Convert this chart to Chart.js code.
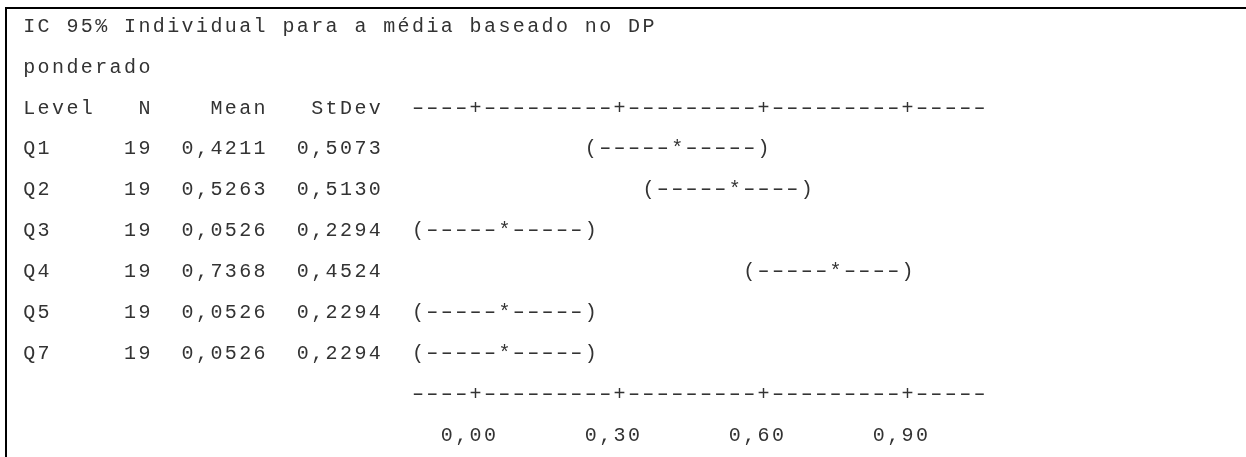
<!DOCTYPE html>
<html>
<head>
   <title>IC 95% Individual para a média</title>
   <meta charset="UTF-8">
   <script src="https://cdn.jsdelivr.net/npm/chart.js"></script>
   <style>
       body {
           margin: 0;
           background: white;
       }
       .quadro {
           position: relative;
           width: 1246px;
           height: 457px;
       }
   </style>
</head>
<body>
   <div class="quadro">
       <canvas id="grafico"></canvas>
   </div>

   <script>
       const titulo = ['IC 95% Individual para a média baseado no DP', 'ponderado'];
       const cabecalho = ['Level', 'N', 'Mean', 'StDev'];
       const niveis = ['Q1', 'Q2', 'Q3', 'Q4', 'Q5', 'Q7'];
       const tamanhos = [19, 19, 19, 19, 19, 19];
       const medias = [0.4211, 0.5263, 0.0526, 0.7368, 0.0526, 0.0526];
       const desvios = [0.5073, 0.5130, 0.2294, 0.4524, 0.2294, 0.2294];
       const icInferior = [0.247, 0.352, -0.122, 0.562, -0.122, -0.122];
       const icSuperior = [0.596, 0.701, 0.227, 0.911, 0.227, 0.227];
       const marcas = [0, 0.3, 0.6, 0.9];

       // Grade de caracteres (fonte monoespaçada)
       const X0 = 22;          // início do texto
       const PASSO = 14.4;     // largura de um caractere
       const Y0 = 24.7;        // centro da primeira linha
       const LINHA = 40.9;     // altura de linha
       const COL_INI = 27;     // coluna onde começa o eixo
       const COL_FIM = 67;     // coluna depois do fim do eixo
       const POR_COL = 0.03;   // valor por caractere
       const COL_ZERO = 31;    // coluna do valor 0
       const FONTE = '20px "Liberation Mono", "DejaVu Sans Mono", monospace';
       const COR = '#333333';

       const virgula = (v, d) => v.toFixed(d).replace('.', ',');

       // linha de cada elemento
       const LIN_TABELA = 2;
       const LIN_EIXO = LIN_TABELA + niveis.length + 1;
       const LIN_ROTULOS = LIN_EIXO + 1;

       function escrever(ctx, texto, col, y) {
           for (let i = 0; i < texto.length; i++) {
               const ch = texto[i];
               if (ch === ' ') continue;
               const x = X0 + (col + i + 0.5) * PASSO;
               if (ch === '-') {
                   // traço do Courier é mais comprido
                   ctx.save();
                   ctx.translate(x, y);
                   ctx.scale(1.55, 1);
                   ctx.fillText(ch, 0, 0);
                   ctx.restore();
               } else {
                   ctx.fillText(ch, x, y);
               }
           }
       }

       function colunaDe(chart, valor) {
           const px = chart.scales.x.getPixelForValue(valor);
           return Math.round((px - X0) / PASSO - 0.5);
       }

       function linhaEixo(chart) {
           const chars = [];
           for (let c = COL_INI; c < COL_FIM; c++) chars.push('-');
           marcas.forEach(m => { chars[colunaDe(chart, m) - COL_INI] = '+'; });
           return chars.join('');
       }

       const textoMinitab = {
           id: 'textoMinitab',
           beforeDraw(chart) {
               const ctx = chart.ctx;
               ctx.save();
               ctx.fillStyle = 'white';
               ctx.fillRect(0, 0, chart.width, chart.height);
               // moldura
               ctx.fillStyle = '#000';
               ctx.fillRect(5, 7, chart.width - 5, 2);
               ctx.fillRect(5, 7, 2, chart.height - 7);
               ctx.restore();
           },
           afterDatasetsDraw(chart) {
               const ctx = chart.ctx;
               const y = chart.scales.y;
               const base = r => y.getPixelForValue(r) + 7;
               ctx.save();
               ctx.font = FONTE;
               ctx.fillStyle = COR;
               ctx.textAlign = 'center';
               ctx.textBaseline = 'alphabetic';

               escrever(ctx, titulo[0], 0, base(0));
               escrever(ctx, titulo[1], 0, base(1));

               // cabeçalho
               const yc = base(LIN_TABELA);
               escrever(ctx, cabecalho[0], 0, yc);
               escrever(ctx, cabecalho[1], 9 - cabecalho[1].length, yc);
               escrever(ctx, cabecalho[2], 17 - cabecalho[2].length, yc);
               escrever(ctx, cabecalho[3], 25 - cabecalho[3].length, yc);
               escrever(ctx, linhaEixo(chart), COL_INI, yc);

               // níveis e intervalos
               niveis.forEach((nv, i) => {
                   const yl = base(LIN_TABELA + 1 + i);
                   const ns = String(tamanhos[i]);
                   const ms = virgula(medias[i], 4);
                   const ds = virgula(desvios[i], 4);
                   escrever(ctx, nv, 0, yl);
                   escrever(ctx, ns, 9 - ns.length, yl);
                   escrever(ctx, ms, 17 - ms.length, yl);
                   escrever(ctx, ds, 25 - ds.length, yl);

                   const cIni = colunaDe(chart, icInferior[i]);
                   const cFim = colunaDe(chart, icSuperior[i]);
                   const cMed = colunaDe(chart, medias[i]);
                   let s = '';
                   for (let c = cIni; c <= cFim; c++) {
                       s += c === cIni ? '(' : c === cFim ? ')' : c === cMed ? '*' : '-';
                   }
                   escrever(ctx, s, cIni, yl);
               });

               // eixo inferior e rótulos
               escrever(ctx, linhaEixo(chart), COL_INI, base(LIN_EIXO));
               marcas.forEach(m => {
                   escrever(ctx, virgula(m, 2), colunaDe(chart, m) - 2, base(LIN_ROTULOS));
               });
               ctx.restore();
           }
       };

       // escala x: bordas das colunas do eixo; escala y: uma unidade por linha
       const xMin = (COL_INI - 0.5 - COL_ZERO) * POR_COL;
       const xMax = (COL_FIM - 0.5 - COL_ZERO) * POR_COL;
       const topo = Y0 - LINHA / 2;
       const fundo = Y0 + (LIN_ROTULOS + 0.5) * LINHA;

       const ctxGrafico = document.getElementById('grafico').getContext('2d');
       const grafico = new Chart(ctxGrafico, {
           type: 'scatter',
           data: {
               datasets: [{
                   label: 'Médias',
                   data: medias.map((m, i) => ({ x: m, y: LIN_TABELA + 1 + i })),
                   pointRadius: 0
               }]
           },
           options: {
               responsive: true,
               maintainAspectRatio: false,
               animation: false,
               events: [],
               layout: {
                   padding: {
                       left: X0 + COL_INI * PASSO,
                       right: 1246 - (X0 + COL_FIM * PASSO),
                       top: topo,
                       bottom: 457 - fundo
                   }
               },
               plugins: {
                   legend: { display: false },
                   tooltip: { enabled: false }
               },
               scales: {
                   x: { type: 'linear', min: xMin, max: xMax, display: false },
                   y: { type: 'linear', min: -0.5, max: LIN_ROTULOS + 0.5, reverse: true, display: false }
               }
           },
           plugins: [textoMinitab]
       });
   </script>
</body>
</html>
